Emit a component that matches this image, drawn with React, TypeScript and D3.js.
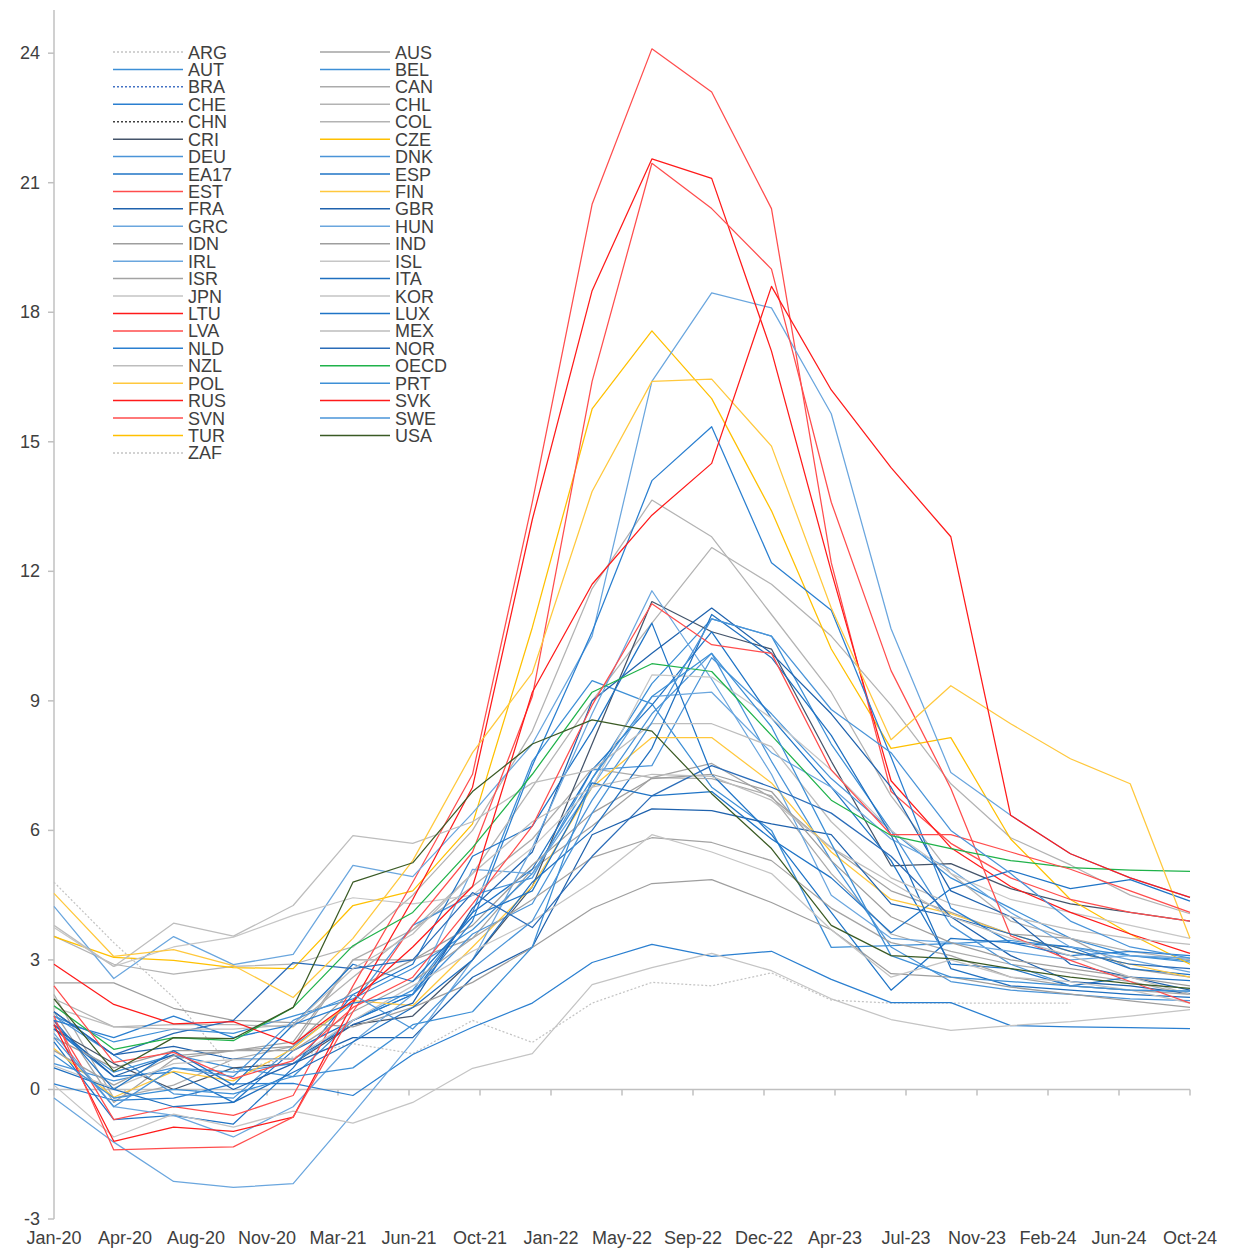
import React from "react";
import * as d3 from "d3";

// quarterly observations, Jan-20 .. Oct-24
const QUARTERS = ["Jan-20","Apr-20","Jul-20","Oct-20","Jan-21","Apr-21","Jul-21","Oct-21","Jan-22","Apr-22","Jul-22","Oct-22","Jan-23","Apr-23","Jul-23","Oct-23","Jan-24","Apr-24","Jul-24","Oct-24"];
// axis labels (17 evenly spaced date ticks)
const TICK_LABELS = ["Jan-20","Apr-20","Aug-20","Nov-20","Mar-21","Jun-21","Oct-21","Jan-22","May-22","Sep-22","Dec-22","Apr-23","Jul-23","Nov-23","Feb-24","Jun-24","Oct-24"];
const Y_TICKS = [-3, 0, 3, 6, 9, 12, 15, 18, 21, 24];

type V = number | null;

const ARG: V[] = [4.8, 3.4, 2.13, 0.44, 0.75, 1.06, 0.83, 1.6, 1.09, 2.0, 2.48, 2.4, 2.7, 2.07, 2.0, 2.0, 2.0, 2.0, null, null];
const AUS: V[] = [1.8, -0.3, 0.7, 0.9, 1.1, 3.0, 3.0, 3.5, 5.1, 6.1, 7.22, 7.55, 6.76, 5.6, 4.6, 4.1, 3.6, 3.5, 2.8, 2.6];
const AUT: V[] = [1.7, 1.1, 1.4, 1.3, 1.7, 2.1, 2.8, 3.7, 5.0, 7.2, 9.4, 10.9, 10.5, 8.0, 6.0, 4.9, 4.2, 3.5, 3.1, 2.99];
const BEL: V[] = [1.4, 0.4, 0.8, 0.5, 0.3, 1.6, 2.3, 4.1, 7.6, 9.47, 8.93, 7.0, 6.0, 3.29, 3.33, 3.38, 3.45, 3.3, 3.1, 2.95];
const BRA: V[] = [];
const CAN: V[] = [2.2, -0.2, 0.1, 0.7, 1.0, 3.0, 3.7, 4.7, 5.8, 7.43, 7.22, 7.2, 6.8, 5.0, 3.6, 3.2, 2.9, 2.7, 2.5, 2.2];
const CHE: V[] = [0.13, -0.25, -0.2, 0.13, 0.14, -0.14, 0.81, 1.44, 2.0, 2.94, 3.36, 3.08, 3.2, 2.55, 2.01, 2.01, 1.48, 1.45, 1.43, 1.41];
const CHL: V[] = [3.55, 2.9, 2.67, 2.85, 2.9, 3.3, 4.5, 6.0, 8.3, 11.6, 13.65, 12.8, 11.0, 9.2, 6.8, 5.0, 3.9, 3.5, 3.2, 3.0];
const CHN: V[] = [];
const COL: V[] = [2.1, 1.45, 1.5, 1.5, 1.45, 2.6, 3.7, 5.0, 7.0, 9.0, 10.8, 12.55, 11.7, 10.5, 8.9, 7.08, 5.83, 5.2, 4.5, 4.07];
const CRI: V[] = [1.4, 0.6, 0.0, 0.5, 0.6, 1.5, 1.7, 3.0, 4.7, 8.0, 11.3, 10.6, 10.2, 7.6, 5.18, 5.23, 4.65, 4.3, 4.1, 3.9];
const CZE: V[] = [3.54, 3.06, 2.99, 2.82, 2.8, 4.26, 4.6, 6.15, 10.7, 15.76, 17.57, 16.0, 13.4, 10.2, 7.9, 8.15, 5.8, 4.4, 3.6, 2.9];
const DEU: V[] = [1.7, 0.8, -0.1, -0.2, 1.0, 2.0, 3.8, 4.5, 4.9, 7.4, 7.5, 10.0, 8.7, 7.2, 6.0, 3.8, 2.9, 2.4, 2.3, 2.28];
const DNK: V[] = [0.6, 0.2, 0.5, 0.4, 0.6, 1.6, 2.2, 3.6, 4.3, 6.7, 8.7, 10.1, 7.6, 5.3, 3.3, 2.5, 2.3, 2.2, 2.1, 2.06];
const EA17: V[] = [1.4, 0.3, 0.4, -0.3, 0.9, 1.6, 2.2, 4.1, 5.1, 7.4, 8.9, 10.6, 8.6, 7.0, 5.3, 2.9, 2.8, 2.4, 2.6, 2.52];
const ESP: V[] = [1.1, -0.7, -0.6, -0.8, 0.5, 2.2, 2.9, 5.4, 6.1, 8.3, 10.8, 7.3, 5.9, 4.1, 2.3, 3.5, 3.4, 3.3, 2.8, 2.66];
const EST: V[] = [1.6, -0.7, -0.4, -0.6, -0.14, 2.4, 4.8, 7.3, 13.6, 20.5, 24.1, 23.1, 20.4, 12.2, 6.9, 5.7, 4.9, 4.4, 4.1, 3.9];
const FIN: V[] = [0.95, -0.18, 0.42, 0.2, 0.95, 2.06, 1.94, 3.3, 4.7, 7.0, 8.15, 8.15, 7.1, 5.5, 4.4, 4.07, 3.6, 3.2, 2.9, 2.6];
const FRA: V[] = [1.5, 0.3, 0.8, 0.0, 0.6, 1.2, 1.2, 2.6, 3.3, 5.9, 6.5, 6.46, 6.15, 5.9, 4.3, 4.0, 3.1, 2.5, 2.4, 2.22];
const GBR: V[] = [1.8, 0.8, 1.0, 0.7, 0.7, 1.5, 2.0, 4.2, 5.5, 9.0, 10.1, 11.15, 10.1, 8.7, 7.0, 4.6, 4.0, 2.9, 2.6, 2.3];
const GRC: V[] = [-0.2, -1.22, -2.13, -2.27, -2.18, -0.56, 1.1, 3.0, 5.6, 8.7, 11.55, 9.5, 7.3, 4.5, 3.5, 3.4, 3.2, 3.0, 3.1, 3.04];
const HUN: V[] = [4.24, 2.57, 3.54, 2.89, 3.13, 5.19, 4.93, 6.4, 8.0, 10.5, 16.4, 18.45, 18.1, 15.65, 10.67, 7.34, 6.35, 5.46, 4.9, 4.45];
const IDN: V[] = [2.47, 2.47, 1.88, 1.6, 1.55, 1.45, 1.9, 2.48, 3.29, 4.19, 4.77, 4.86, 4.33, 3.7, 2.68, 2.6, 2.37, 2.21, 2.05, 1.9];
const IND: V[] = [1.2, 0.5, 0.9, 0.9, 1.0, 2.3, 3.0, 3.8, 5.2, 6.4, 7.2, 7.3, 6.9, 5.3, 4.0, 3.4, 3.0, 2.8, 2.6, 2.4];
const IRL: V[] = [1.3, -0.4, -0.6, -1.1, -0.4, 1.1, 2.2, 5.1, 5.0, 7.0, 9.1, 9.2, 7.8, 7.0, 5.8, 5.1, 4.1, 3.3, 3.0, 2.72];
const ISL: V[] = [3.75, 2.85, 3.3, 3.53, 4.03, 4.44, 4.3, 4.5, 5.6, 7.0, 9.6, 9.55, 8.6, 7.4, 6.0, 5.0, 4.4, 4.1, 3.8, 3.5];
const ISR: V[] = [0.9, 0.1, 0.78, 0.9, 0.9, 1.8, 2.5, 3.5, 4.4, 5.37, 5.83, 5.72, 5.3, 4.2, 3.4, 3.1, 2.6, 2.4, 2.3, 2.2];
const ITA: V[] = [0.5, 0.0, -0.4, -0.3, 0.4, 1.1, 1.9, 3.0, 4.8, 6.0, 7.9, 11.0, 10.0, 8.2, 5.9, 2.8, 2.4, 2.3, 2.2, 2.13];
const JPN: V[] = [0.1, -1.1, -0.57, -0.87, -0.5, -0.78, -0.3, 0.49, 0.83, 2.43, 2.82, 3.15, 2.75, 2.1, 1.62, 1.37, 1.48, 1.57, 1.7, 1.85];
const KOR: V[] = [0.55, 0.03, 0.6, 0.69, 0.7, 1.6, 2.4, 3.2, 3.9, 4.8, 5.9, 5.5, 5.0, 3.7, 2.6, 3.0, 2.6, 2.5, 2.3, 2.0];
const LTU: V[] = [1.5, -1.2, -0.87, -0.97, -0.64, 2.0, 4.4, 7.0, 13.2, 18.5, 21.55, 21.1, 17.1, 12.0, 7.15, 5.6, 4.7, 4.1, 3.6, 3.15];
const LUX: V[] = [1.6, 0.0, 0.9, 0.1, 1.5, 2.9, 2.5, 4.0, 4.6, 7.1, 6.8, 6.9, 5.8, 4.9, 3.63, 4.65, 5.07, 4.65, 4.86, 4.36];
const LVA: V[] = [1.7, -1.4, -1.36, -1.33, -0.64, 1.8, 3.8, 5.5, 9.1, 16.4, 21.45, 20.4, 19.0, 13.6, 9.7, 6.97, 3.56, 2.99, 2.5, 2.0];
const MEX: V[] = [3.8, 2.85, 3.85, 3.55, 4.26, 5.88, 5.7, 6.2, 7.1, 7.4, 8.47, 8.47, 7.94, 6.2, 4.9, 4.3, 4.0, 3.7, 3.5, 3.36];
const NLD: V[] = [1.6, 1.2, 1.7, 1.2, 1.5, 2.0, 2.2, 3.9, 7.5, 10.6, 14.1, 15.35, 12.2, 11.1, 7.7, 4.2, 3.4, 3.1, 3.2, 3.1];
const NOR: V[] = [1.8, 0.8, 1.3, 1.6, 2.94, 2.8, 3.0, 4.56, 3.75, 5.4, 6.8, 7.5, 7.0, 6.4, 5.4, 4.0, 3.6, 3.2, 2.9, 2.8];
const NZL: V[] = [1.9, 1.45, 1.4, 1.4, 1.5, 2.8, 3.6, 5.0, 6.2, 7.0, 7.3, 7.25, 6.7, 5.6, 4.8, 4.0, 3.5, 3.1, 2.6, 2.2];
const OECD: V[] = [1.94, 0.93, 1.2, 1.13, 1.9, 3.33, 4.1, 5.6, 7.3, 9.2, 9.86, 9.68, 8.2, 6.7, 5.88, 5.58, 5.3, 5.14, 5.08, 5.05];
const POL: V[] = [4.54, 3.08, 3.24, 2.87, 2.13, 3.5, 5.3, 7.8, 9.65, 13.85, 16.4, 16.45, 14.9, 11.15, 8.1, 9.35, 8.47, 7.66, 7.08, 3.5];
const PRT: V[] = [0.8, -0.2, 0.0, -0.1, 0.3, 0.5, 1.5, 1.8, 3.3, 7.2, 9.1, 10.1, 8.4, 5.7, 3.1, 2.6, 2.5, 2.4, 2.3, 2.28];
const RUS: V[] = [];
const SVK: V[] = [2.9, 1.97, 1.52, 1.57, 1.05, 2.06, 3.3, 4.7, 9.2, 11.7, 13.3, 14.5, 18.6, 16.2, 14.4, 12.8, 6.35, 5.46, 4.9, 4.45];
const SVN: V[] = [2.4, 0.63, 0.86, 0.25, 0.67, 1.9, 2.6, 4.3, 6.1, 8.9, 11.25, 10.3, 10.1, 7.4, 5.9, 5.9, 5.5, 5.1, 4.6, 4.1];
const SWE: V[] = [1.2, -0.4, 0.5, 0.3, 1.6, 2.2, 1.4, 2.8, 3.9, 6.4, 8.5, 10.9, 10.5, 8.8, 7.8, 6.0, 5.0, 3.9, 3.3, 3.04];
const TUR: V[] = [];
const USA: V[] = [2.1, 0.42, 1.2, 1.18, 1.9, 4.8, 5.25, 6.9, 8.0, 8.56, 8.3, 6.85, 5.58, 3.8, 3.1, 3.03, 2.8, 2.6, 2.45, 2.34];
const ZAF: V[] = [];

const SERIES: [string, V[]][] = [
  ["ARG", ARG], ["AUS", AUS], ["AUT", AUT], ["BEL", BEL], ["BRA", BRA], ["CAN", CAN],
  ["CHE", CHE], ["CHL", CHL], ["CHN", CHN], ["COL", COL], ["CRI", CRI], ["CZE", CZE],
  ["DEU", DEU], ["DNK", DNK], ["EA17", EA17], ["ESP", ESP], ["EST", EST], ["FIN", FIN],
  ["FRA", FRA], ["GBR", GBR], ["GRC", GRC], ["HUN", HUN], ["IDN", IDN], ["IND", IND],
  ["IRL", IRL], ["ISL", ISL], ["ISR", ISR], ["ITA", ITA], ["JPN", JPN], ["KOR", KOR],
  ["LTU", LTU], ["LUX", LUX], ["LVA", LVA], ["MEX", MEX], ["NLD", NLD], ["NOR", NOR],
  ["NZL", NZL], ["OECD", OECD], ["POL", POL], ["PRT", PRT], ["RUS", RUS], ["SVK", SVK],
  ["SVN", SVN], ["SWE", SWE], ["TUR", TUR], ["USA", USA], ["ZAF", ZAF],
];

const COLORS: Record<string, string> = {
  ARG: "#c4c4c4", AUS: "#a3a3a3", AUT: "#3d8fd6", BEL: "#3d8fd6", BRA: "#4472c4", CAN: "#ababab",
  CHE: "#2a7fd0", CHL: "#b3b3b3", CHN: "#404040", COL: "#b3b3b3", CRI: "#44546a", CZE: "#ffc000",
  DEU: "#4a94d8", DNK: "#4a94d8", EA17: "#1f74c6", ESP: "#1f74c6", EST: "#ff4d4d", FIN: "#ffc83d",
  FRA: "#1f62ad", GBR: "#1f62ad", GRC: "#6aa6de", HUN: "#6aa6de", IDN: "#9e9e9e", IND: "#9e9e9e",
  IRL: "#6aa6de", ISL: "#c6c6c6", ISR: "#a3a3a3", ITA: "#1f6fbf", JPN: "#c4c4c4", KOR: "#c4c4c4",
  LTU: "#ff1a1a", LUX: "#1f74c6", LVA: "#ff4d4d", MEX: "#bdbdbd", NLD: "#2a7fd0", NOR: "#2a6cb8",
  NZL: "#bdbdbd", OECD: "#1fb24a", POL: "#ffc83d", PRT: "#3d8fd6", RUS: "#ff1a1a", SVK: "#ff1a1a",
  SVN: "#ff4d4d", SWE: "#4a94d8", TUR: "#ffc000", USA: "#3a5a24", ZAF: "#c4c4c4",
};
const DOTTED = new Set(["ARG", "BRA", "CHN", "ZAF"]);

const FONT = "'Liberation Sans', Arial, Helvetica, sans-serif";
const TEXT = "#404040";
const AXIS = "#c0c0c0";

const LEFT = 54;
const RIGHT = 1190;
const TOP = 10;
const BOTTOM = 1219;

export default function App() {
  const x = d3.scaleLinear().domain([0, QUARTERS.length - 1]).range([LEFT, RIGHT]);
  const y = d3.scaleLinear().domain([-3, 25]).range([BOTTOM, TOP]);

  const line = d3
    .line<V>()
    .defined((d) => d !== null && d !== undefined)
    .x((_, i) => x(i))
    .y((d) => y(d as number));

  const tickPos = TICK_LABELS.map((_, k) => (k * (QUARTERS.length - 1)) / (TICK_LABELS.length - 1));

  return (
    <svg
      width={1240}
      height={1250}
      style={{ position: "absolute", left: 0, top: 0, background: "#fff" }}
      fontFamily={FONT}
    >
      {/* y axis */}
      <line x1={LEFT} x2={LEFT} y1={TOP} y2={BOTTOM} stroke={AXIS} strokeWidth={1.5} />
      {Y_TICKS.map((t) => (
        <g key={t}>
          <line x1={LEFT - 6} x2={LEFT} y1={y(t)} y2={y(t)} stroke={AXIS} strokeWidth={1.5} />
          <text x={40} y={y(t) + 6} textAnchor="end" fontSize={18} fill={TEXT}>
            {t}
          </text>
        </g>
      ))}

      {/* x axis on zero line, labels at the bottom */}
      <line x1={LEFT} x2={RIGHT} y1={y(0)} y2={y(0)} stroke={AXIS} strokeWidth={1.5} />
      {tickPos.map((p, k) => (
        <g key={k}>
          <line x1={x(p)} x2={x(p)} y1={y(0)} y2={y(0) + 6} stroke={AXIS} strokeWidth={1.5} />
          <text x={x(p)} y={1244} textAnchor="middle" fontSize={18} fill={TEXT}>
            {TICK_LABELS[k]}
          </text>
        </g>
      ))}

      {/* series */}
      <g fill="none">
        {SERIES.map(([code, vals]) =>
          vals.length ? (
            <path
              key={code}
              d={line(vals) || ""}
              stroke={COLORS[code]}
              strokeWidth={1.25}
              strokeDasharray={DOTTED.has(code) ? "2,2" : undefined}
              strokeLinejoin="round"
            />
          ) : null
        )}
      </g>

      {/* legend, two columns filled row by row */}
      {SERIES.map(([code], i) => {
        const col = i % 2;
        const row = Math.floor(i / 2);
        const ly = 52 + row * 17.43;
        const lx = col === 0 ? 113 : 320;
        return (
          <g key={"lg" + code}>
            <line
              x1={lx}
              x2={lx + 70}
              y1={ly}
              y2={ly}
              stroke={COLORS[code]}
              strokeWidth={1.5}
              strokeDasharray={DOTTED.has(code) ? "2,2" : undefined}
            />
            <text x={lx + 75} y={ly + 6.5} fontSize={18} fill={TEXT}>
              {code}
            </text>
          </g>
        );
      })}
    </svg>
  );
}
